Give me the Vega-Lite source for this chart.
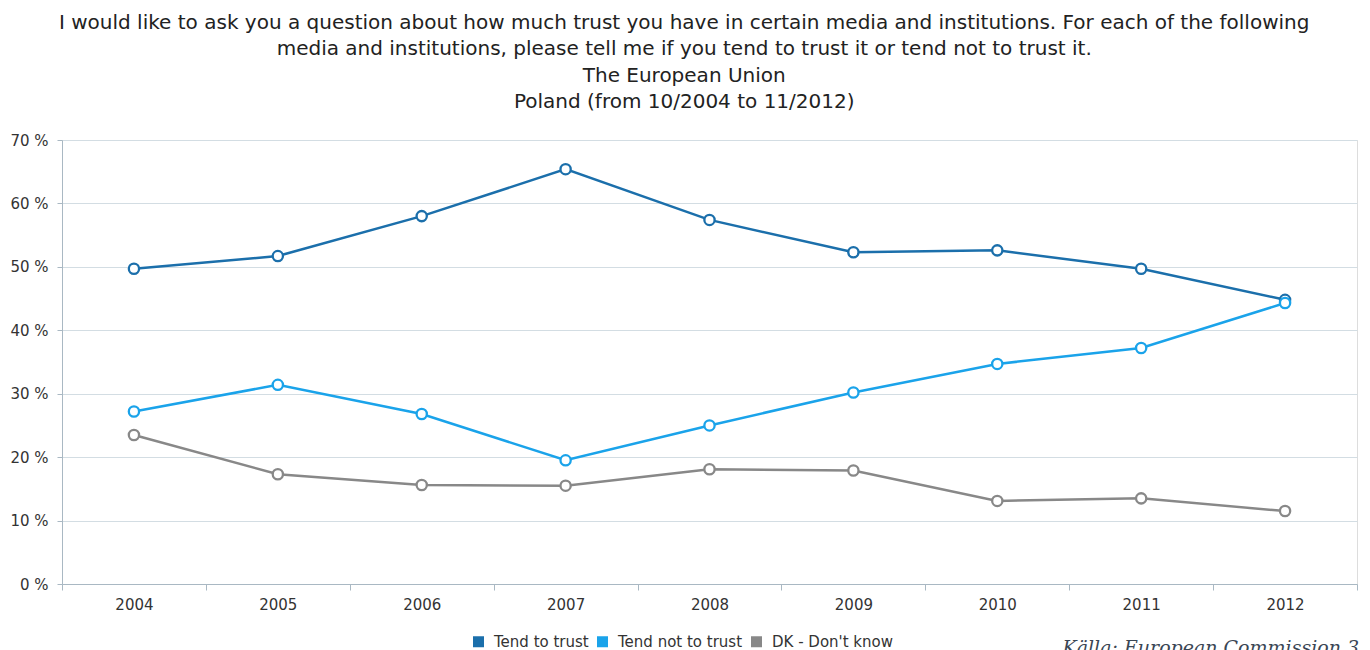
{
  "$schema": "https://vega.github.io/schema/vega-lite/v6.json",
  "width": 1295,
  "height": 444,
  "autosize": {"type": "none"},
  "padding": {"left": 62, "top": 140, "right": 13, "bottom": 66},
  "background": "white",
  "title": {
    "text": ["I would like to ask you a question about how much trust you have in certain media and institutions. For each of the following", "media and institutions, please tell me if you tend to trust it or tend not to trust it.", "The European Union", "Poland (from 10/2004 to 11/2012)"],
    "font": "DejaVu Sans",
    "fontSize": 20,
    "fontWeight": "normal",
    "color": "#222222",
    "lineHeight": 26.5,
    "anchor": "middle",
    "frame": "bounds",
    "offset": 21
  },
  "data": {
    "values": [
      {"year": "2004", "series": "Tend to trust", "value": 49.7},
      {"year": "2005", "series": "Tend to trust", "value": 51.7},
      {"year": "2006", "series": "Tend to trust", "value": 58.0},
      {"year": "2007", "series": "Tend to trust", "value": 65.4},
      {"year": "2008", "series": "Tend to trust", "value": 57.4},
      {"year": "2009", "series": "Tend to trust", "value": 52.3},
      {"year": "2010", "series": "Tend to trust", "value": 52.6},
      {"year": "2011", "series": "Tend to trust", "value": 49.7},
      {"year": "2012", "series": "Tend to trust", "value": 44.8},
      {"year": "2004", "series": "Tend not to trust", "value": 27.2},
      {"year": "2005", "series": "Tend not to trust", "value": 31.4},
      {"year": "2006", "series": "Tend not to trust", "value": 26.8},
      {"year": "2007", "series": "Tend not to trust", "value": 19.5},
      {"year": "2008", "series": "Tend not to trust", "value": 25.0},
      {"year": "2009", "series": "Tend not to trust", "value": 30.2},
      {"year": "2010", "series": "Tend not to trust", "value": 34.7},
      {"year": "2011", "series": "Tend not to trust", "value": 37.2},
      {"year": "2012", "series": "Tend not to trust", "value": 44.3},
      {"year": "2004", "series": "DK - Don't know", "value": 23.5},
      {"year": "2005", "series": "DK - Don't know", "value": 17.3},
      {"year": "2006", "series": "DK - Don't know", "value": 15.6},
      {"year": "2007", "series": "DK - Don't know", "value": 15.5},
      {"year": "2008", "series": "DK - Don't know", "value": 18.1},
      {"year": "2009", "series": "DK - Don't know", "value": 17.9},
      {"year": "2010", "series": "DK - Don't know", "value": 13.1},
      {"year": "2011", "series": "DK - Don't know", "value": 13.5},
      {"year": "2012", "series": "DK - Don't know", "value": 11.5}
    ]
  },
  "encoding": {
    "x": {
      "field": "year",
      "type": "ordinal",
      "bandPosition": 0.5,
      "scale": {"type": "band", "paddingInner": 0, "paddingOuter": 0},
      "axis": {
        "title": "Källa: European Commission 3",
        "titleFont": "DejaVu Serif",
        "titleFontStyle": "italic",
        "titleFontWeight": "normal",
        "titleFontSize": 19,
        "titleColor": "#3a4654",
        "titleAlign": "left",
        "titleAnchor": null,
        "titleX": 1000,
        "titleY": 69,
        "titleBaseline": "alphabetic",
        "labelAngle": 0,
        "labelFont": "DejaVu Sans",
        "labelFontSize": 15,
        "labelColor": "#333333",
        "labelPadding": 7,
        "tickBand": "extent",
        "tickSize": 6,
        "tickColor": "#a9b8c3",
        "domainColor": "#a9b8c3",
        "grid": false
      }
    },
    "y": {
      "field": "value",
      "type": "quantitative",
      "scale": {"domain": [0, 70], "nice": false},
      "axis": {
        "title": null,
        "values": [0, 10, 20, 30, 40, 50, 60, 70],
        "labelExpr": "datum.value + ' %'",
        "labelFont": "DejaVu Sans",
        "labelFontSize": 15,
        "labelColor": "#333333",
        "labelPadding": 9,
        "tickSize": 5,
        "tickColor": "#a9b8c3",
        "domainColor": "#a9b8c3",
        "gridColor": "#d3dde3",
        "gridWidth": 1
      }
    },
    "color": {
      "field": "series",
      "type": "nominal",
      "sort": ["Tend to trust", "Tend not to trust", "DK - Don't know"],
      "scale": {"domain": ["Tend to trust", "Tend not to trust", "DK - Don't know"], "range": ["#1b6fab", "#1aa3ea", "#888888"]},
      "legend": {
        "title": null,
        "orient": "none",
        "direction": "horizontal",
        "legendX": 409,
        "legendY": 494,
        "symbolType": "square",
        "symbolSize": 121,
        "symbolStrokeWidth": 0,
        "labelFont": "DejaVu Sans",
        "labelFontSize": 15,
        "labelColor": "#333333",
        "columnPadding": 6,
        "labelOffset": 8
      }
    }
  },
  "layer": [
    {"mark": {"type": "line", "strokeWidth": 2.5}},
    {"mark": {"type": "point", "filled": true, "fill": "white", "size": 105, "strokeWidth": 2.3, "opacity": 1}, "encoding": {"stroke": {"field": "series", "type": "nominal", "scale": {"domain": ["Tend to trust", "Tend not to trust", "DK - Don't know"], "range": ["#1b6fab", "#1aa3ea", "#888888"]}, "legend": null}}}
  ]
}
